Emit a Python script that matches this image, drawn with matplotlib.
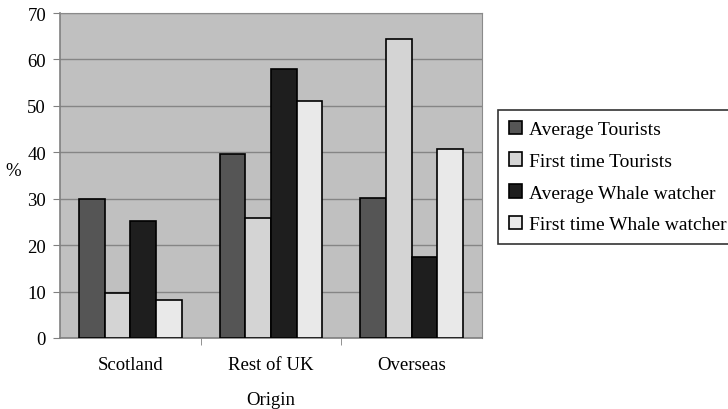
import numpy as np
import matplotlib.pyplot as plt

# --- dados ---
origens = ['Scotland', 'Rest of UK', 'Overseas']
series = ['Average Tourists', 'First time Tourists',
          'Average Whale watcher', 'First time Whale watcher']
avg_tourists = [29.9, 39.7, 30.2]
first_tourists = [9.8, 25.8, 64.3]
avg_whale = [25.1, 57.9, 17.4]
first_whale = [8.1, 51.0, 40.7]
cores = ['#555555', '#d4d4d4', '#1e1e1e', '#e9e9e9']

plt.rcParams['font.family'] = ['Liberation Serif', 'DejaVu Serif']
FS = 13.5

fig = plt.figure(figsize=(7.28, 4.10), dpi=100)
ax = fig.add_axes([60 / 728, 71 / 410, 422 / 728, 325 / 410])
ax.set_facecolor('#c0c0c0')

x = np.arange(len(origens))
largura = 0.183
valores = [avg_tourists, first_tourists, avg_whale, first_whale]
for i, (vals, nome) in enumerate(zip(valores, series)):
    ax.bar(x + (i - 1.5) * largura, vals, largura, color=cores[i],
           edgecolor='black', linewidth=1.2, label=nome, zorder=3)

ax.set_xlim(-0.5, 2.5)
ax.set_ylim(0, 70)
ax.set_yticks(range(0, 71, 10))
ax.yaxis.grid(True, color='#858585', linewidth=1, zorder=0)
ax.set_xticks(x)
ax.set_xticklabels(origens, fontsize=FS)
ax.tick_params(axis='x', length=0, pad=13)
ax.set_xticks([0.5, 1.5], minor=True)
ax.tick_params(axis='x', which='minor', length=5, direction='out', color='#808080')
ax.tick_params(axis='y', labelsize=FS, length=5, direction='out', color='#808080', pad=5)

for s in ['top', 'right']:
    ax.spines[s].set_color('#8a8a8a')
for s in ['left', 'bottom']:
    ax.spines[s].set_color('#808080')
    ax.spines[s].set_linewidth(1.2)

ax.set_xlabel('Origin', fontsize=FS, labelpad=13)
ax.set_ylabel('%', fontsize=FS, rotation=0)
ax.yaxis.set_label_coords(-0.11, 0.49)

leg = fig.legend(loc='upper left', bbox_to_anchor=(498 / 728, 1 - 111 / 410),
                 borderaxespad=0, fontsize=14, frameon=True, fancybox=False,
                 handlelength=0.7, handleheight=0.7, handletextpad=0.35,
                 labelspacing=0.72, borderpad=0.55)
leg.get_frame().set_edgecolor('black')
leg.get_frame().set_linewidth(1.2)

fig.savefig('out.png', dpi=100)
